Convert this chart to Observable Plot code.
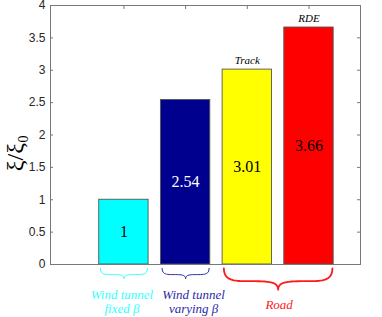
<!DOCTYPE html>
<html>
<head>
<meta charset="utf-8">
<script src="https://cdn.jsdelivr.net/npm/d3@7"></script>
<script src="https://cdn.jsdelivr.net/npm/@observablehq/plot@0.6"></script>
<style>
  html, body { margin: 0; padding: 0; background: #fff; }
</style>
</head>
<body>
<div id="chart"></div>
<script>
// ---- data ----
const categories = ["Wind tunnel fixed β", "Wind tunnel varying β", "Track", "RDE"];
const values = [1, 2.54, 3.01, 3.66];
const valueLabels = ["1", "2.54", "3.01", "3.66"];
const topLabels = ["", "", "Track", "RDE"];
const groupLabels = ["Wind tunnel\nfixed β", "Wind tunnel\nvarying β", "Road"];
const groupFirst = [0, 1, 2];   // index of first bar in group
const groupLast = [0, 1, 3];    // index of last bar in group
const yTicks = [0, 0.5, 1, 1.5, 2, 2.5, 3, 3.5, 4];
const yDomain = [0, 4];
const yLabel = "ξ/ξ₀";

// ---- styles ----
const barColors = ["#00ffff", "#00008f", "#ffff00", "#ff0000"];
const valueColors = ["#000", "#fff", "#000", "#000"];
const groupColors = ["#33ffff", "#2a2aa6", "#ff1a1a"];
const groupDx = [-2, 8, 1];
const groupDy = [37, 37, 40];
const braceWidths = [1, 1, 1.8];
const braceDepths = [0.16, 0.16, 0.33];
const barHalf = 0.4;
const xDomain = [-0.19, 4.835];

const bars = categories.map((c, i) => ({
  cat: c, pos: i + 1, value: values[i], label: valueLabels[i],
  top: topLabels[i], fill: barColors[i], tcolor: valueColors[i]
}));

// brace shape (decorative), built from group extents in data units
function bezier(p0, p1, p2, p3, n) {
  const out = [];
  for (let k = 0; k <= n; k++) {
    const t = k / n, u = 1 - t;
    out.push([
      u*u*u*p0[0] + 3*u*u*t*p1[0] + 3*u*t*t*p2[0] + t*t*t*p3[0],
      u*u*u*p0[1] + 3*u*u*t*p1[1] + 3*u*t*t*p2[1] + t*t*t*p3[1]
    ]);
  }
  return out;
}
function brace(x1, x2, top, depth) {
  const w = x2 - x1, xm = (x1 + x2) / 2;
  const mid = top - depth * 0.6, tip = top - depth;
  const q1 = x1 + w / 4, q3 = x2 - w / 4;
  return [
    ...bezier([x1, top], [x1, mid], [x1 + w/10, mid], [q1, mid], 12),
    ...bezier([q1, mid], [xm - w/10, mid], [xm, mid], [xm, tip], 12).slice(1),
    ...bezier([xm, tip], [xm, mid], [xm + w/10, mid], [q3, mid], 12).slice(1),
    ...bezier([q3, mid], [x2 - w/10, mid], [x2, mid], [x2, top], 12).slice(1)
  ].map(([x, y]) => ({x, y}));
}

const braceTop = -0.06;
const braceMarks = groupLabels.map((g, j) => {
  const x1 = groupFirst[j] + 1 - barHalf + 0.02;
  const x2 = groupLast[j] + 1 + barHalf - 0.02;
  return Plot.line(brace(x1, x2, braceTop, braceDepths[j]), {
    x: "x", y: "y", stroke: groupColors[j], strokeWidth: braceWidths[j], curve: "linear"
  });
});

const groupTextMarks = groupLabels.map((g, j) => Plot.text([g], {
  x: () => (groupFirst[j] + groupLast[j]) / 2 + 1, y: () => 0, text: d => d,
  fill: groupColors[j], fontFamily: "'Liberation Serif', 'DejaVu Serif', serif", fontStyle: "italic",
  fontSize: 13, lineAnchor: "middle", lineHeight: 1.1, dx: groupDx[j], dy: groupDy[j]
}));

const serif = "'Liberation Serif', 'DejaVu Serif', serif";
const sans = "'Liberation Sans', Arial, sans-serif";

const chart = Plot.plot({
  width: 382,
  height: 317,
  marginLeft: 50,
  marginRight: 22,
  marginTop: 5,
  marginBottom: 53,
  style: { fontFamily: sans, fontSize: "12px", color: "#262626", background: "#fff" },
  x: { domain: xDomain, axis: null },
  y: { domain: yDomain, ticks: yTicks, tickFormat: d => String(d), tickSize: 0, tickPadding: 5, label: null },
  marks: [
    Plot.rectY(bars, {
      x1: d => d.pos - barHalf, x2: d => d.pos + barHalf, y1: 0, y2: "value",
      fill: "fill", stroke: "#555", strokeWidth: 0.9
    }),
    Plot.text(bars, {
      x: "pos", y: d => d.value / 2, text: "label", fill: "tcolor",
      fontFamily: serif, fontSize: 16
    }),
    Plot.text(bars.filter(d => d.top), {
      x: "pos", y: "value", text: "top", fontFamily: serif, fontStyle: "italic",
      fontSize: 11, lineAnchor: "bottom", dy: -6, fill: "#000"
    }),
    ...braceMarks,
    ...groupTextMarks,
    Plot.tickY(yTicks, { y: d => d, stroke: "#777", insetRight: 307 }),
    Plot.tickY(yTicks, { y: d => d, stroke: "#777", insetLeft: 307 }),
    Plot.tickX(bars, { x: "pos", stroke: "#777", insetBottom: 255 }),
    Plot.frame({ stroke: "#777" }),
    Plot.text([yLabel], {
      x: () => xDomain[0], y: () => (yDomain[0] + yDomain[1]) / 2, text: d => d,
      rotate: -90, dx: -35, dy: 18, fontFamily: serif, fontSize: 24, fill: "#000"
    })
  ]
});
document.getElementById("chart").appendChild(chart);
</script>
</body>
</html>
